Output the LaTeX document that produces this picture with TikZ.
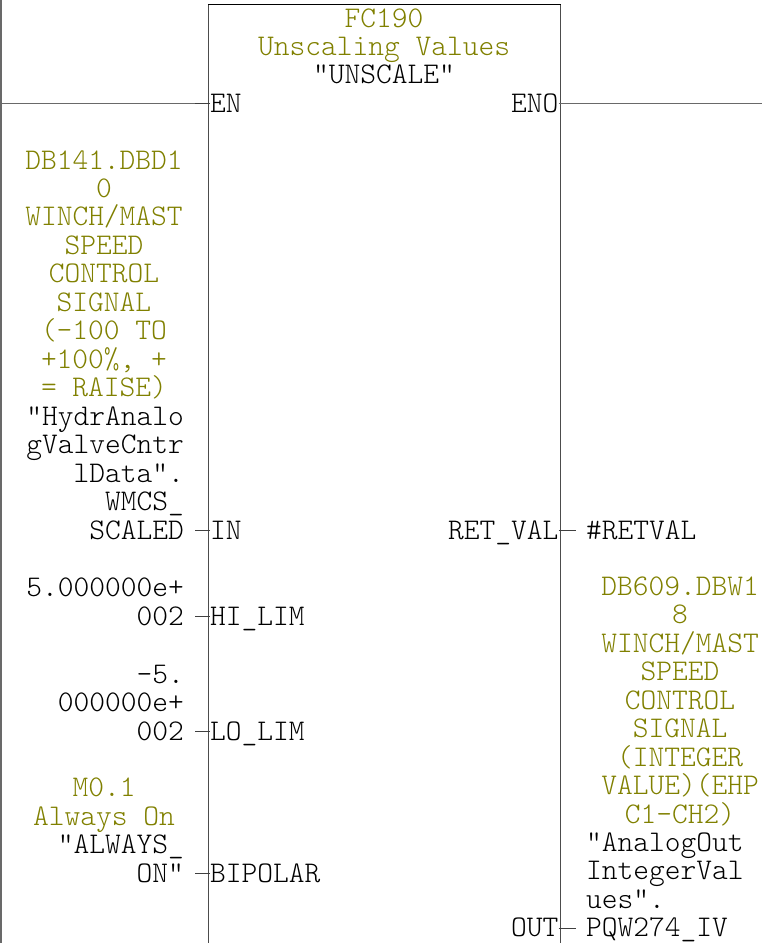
\documentclass[tikz,border=0pt]{standalone}
\usepackage{fontspec}
\newfontfamily\plcfont{lmmonolt10-regular.otf}
\definecolor{symolive}{RGB}{128,128,0}
\definecolor{wiregray}{RGB}{105,105,105}

\begin{document}
\begin{tikzpicture}[x=1pt, y=-1pt,
    every node/.style={font=\plcfont\fontsize{30}{28.46}\selectfont, inner sep=0pt},
    pinlabel/.style={text height=17pt, text depth=0pt},
    symcomment/.style={text=symolive, align=center, anchor=base},
    wire/.style={wiregray, line width=1pt},
    stub/.style={black!75, line width=1pt}]
    \useasboundingbox (0,0) rectangle (762,943);

    % Power rail
    \coordinate (railtop) at (1,0);
    \coordinate (railbot) at (1,943);
    \draw[wiregray, line width=1.5pt] (railtop) -- (railbot);

    % Block frame
    \draw[black!70, line width=1pt] (208.7,943) -- (208.7,4.3);
    \draw[black!70, line width=1pt] (560.5,943) -- (560.5,4.3);
    \draw[black, line width=1pt] (208.2,4.3) -- (561,4.3);

    % Title
    \node[symcomment] (fcnum) at (384,27) {FC190};
    \node[symcomment] (fcname) at (384,55) {Unscaling Values};
    \node[anchor=base] (fcsym) at (384,83) {"UNSCALE"};

    % Pins
    \node[pinlabel, anchor=base west] (pinEN) at (210,112) {EN};
    \node[pinlabel, anchor=base east] (pinENO) at (558.5,112) {ENO};
    \node[pinlabel, anchor=base west] (pinIN) at (210,539) {IN};
    \node[pinlabel, anchor=base west] (pinHI) at (210,625) {HI\_LIM};
    \node[pinlabel, anchor=base west] (pinLO) at (210,740) {LO\_LIM};
    \node[pinlabel, anchor=base west] (pinBI) at (210,882) {BIPOLAR};
    \node[pinlabel, anchor=base east] (pinRET) at (558.5,539) {RET\_VAL};
    \node[pinlabel, anchor=base east] (pinOUT) at (558.5,936.5) {OUT};

    % EN / ENO wires
    \draw[wire] (pinEN.west -| railtop) -- (pinEN.west);
    \draw[wire] (pinENO.east) -- ++(204,0);

    % Pin stubs
    \foreach \p in {pinEN,pinIN,pinHI,pinLO,pinBI}
        \draw[stub] (\p.west) -- ++(-15,0);
    \foreach \p in {pinRET,pinOUT}
        \draw[stub] (\p.east) -- ++(17,0);

    % Inputs
    \node[symcomment] (opINcmt) at (104,396.7)
        {DB141.DBD1\\0\\WINCH/MAST\\SPEED\\CONTROL\\SIGNAL\\(-100 TO\\+100\%, +\\= RAISE)};
    \node[align=right, anchor=base east] (opIN) at (184,539)
        {"HydrAnalo\\gValveCntr\\lData".\\WMCS\_\\SCALED};
    \node[align=right, anchor=base east] (opHI) at (184,625) {5.000000e+\\002};
    \node[align=right, anchor=base east] (opLO) at (184,740) {-5.\\000000e+\\002};
    \node[symcomment] (opBIcmt) at (104,825.1) {M0.1\\Always On};
    \node[align=right, anchor=base east] (opBI) at (184,882) {"ALWAYS\_\\ON"};

    % Outputs
    \node[anchor=base west] (opRET) at (586,539) {\#RETVAL};
    \node[symcomment] (opOUTcmt) at (680,823)
        {DB609.DBW1\\8\\WINCH/MAST\\SPEED\\CONTROL\\SIGNAL\\(INTEGER\\VALUE)(EHP\\C1-CH2)};
    \node[align=left, anchor=base west] (opOUT) at (586,936.5)
        {"AnalogOut\\IntegerVal\\ues".\\PQW274\_IV};
\end{tikzpicture}
\end{document}
